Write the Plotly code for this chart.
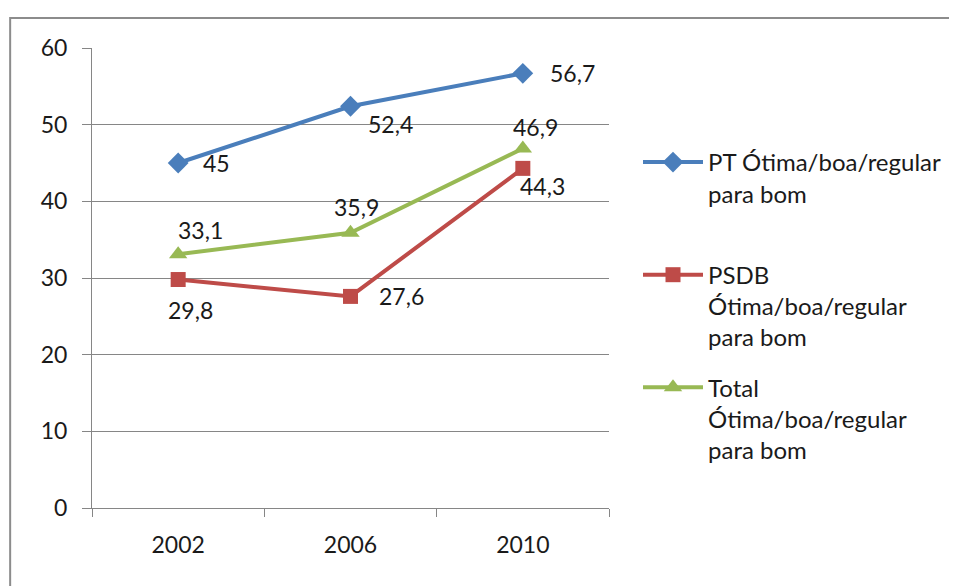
import plotly.graph_objects as go

years = ["2002", "2006", "2010"]
pt_values = [45, 52.4, 56.7]
psdb_values = [29.8, 27.6, 44.3]
total_values = [33.1, 35.9, 46.9]
series_names = [
    "PT Ótima/boa/regular<br>para bom<br> ",
    "PSDB<br>Ótima/boa/regular<br>para bom",
    "Total<br>Ótima/boa/regular<br>para bom",
]
y_ticks = [0, 10, 20, 30, 40, 50, 60]

# page body has an 8px margin; figure sits at (8,8)
OFF = 8
W, H = 957 - OFF, 586 - OFF
L, R, T, B = 92 - OFF, 957 - 610, 48 - OFF, 586 - 508
FONT = "Lato"
FS = 23
TXT = "#1a1a1a"

fig = go.Figure()
fig.add_trace(go.Scatter(x=years, y=pt_values, name=series_names[0], mode="lines+markers",
                         line=dict(color="#4A7EBB", width=4),
                         marker=dict(symbol="diamond", size=16, color="#4A7EBB"),
                         legendgroup="a"))
fig.add_trace(go.Scatter(x=years, y=psdb_values, name=series_names[1], mode="lines+markers",
                         line=dict(color="#BE4B48", width=4),
                         marker=dict(symbol="square", size=15, color="#BE4B48"),
                         legendgroup="b"))
fig.add_trace(go.Scatter(x=years, y=total_values, name=series_names[2], mode="lines+markers",
                         line=dict(color="#98B954", width=4),
                         marker=dict(symbol="triangle-up", size=16, color="#98B954"),
                         legendgroup="c"))

def fmt(v):
    return ("%g" % v).replace(".", ",")

# label offsets (pixels) per series/point
pt_off = [(38, 0), (40, -18), (50, 0)]
psdb_off = [(12, -30), (51, 0), (20, -18)]
total_off = [(22, 24), (6, 26), (13, 21)]
for vals, offs in ((pt_values, pt_off), (psdb_values, psdb_off), (total_values, total_off)):
    for i, (yv, (dx, dy)) in enumerate(zip(vals, offs)):
        fig.add_annotation(x=i, y=yv, xref="x", yref="y", text=fmt(yv), showarrow=False,
                           xshift=dx, yshift=dy,
                           font=dict(family=FONT, size=FS, color=TXT))

def px_to_paper_x(px):
    return (px - OFF - L) / (W - L - R)
def px_to_paper_y(py):
    return 1 - (py - OFF - T) / (H - T - B)

# chart border
fig.add_shape(type="rect", xref="paper", yref="paper",
              x0=px_to_paper_x(10), x1=px_to_paper_x(957 + 20),
              y0=px_to_paper_y(586 + 20), y1=px_to_paper_y(18),
              line=dict(color="#8c8c8c", width=2), fillcolor="rgba(0,0,0,0)", layer="below")

fig.update_layout(
    width=W, height=H,
    margin=dict(l=L, r=R, t=T, b=B),
    paper_bgcolor="white", plot_bgcolor="white",
    font=dict(family=FONT, size=FS, color=TXT),
    showlegend=True,
    legend=dict(x=px_to_paper_x(638), y=px_to_paper_y(140), xanchor="left", yanchor="top",
                font=dict(family=FONT, size=24, color=TXT),
                valign="top", tracegroupgap=16, itemwidth=60,
                bgcolor="rgba(0,0,0,0)"),
    xaxis=dict(type="category", range=[-0.5, 2.5], showgrid=False,
               showline=True, linecolor="#868686", linewidth=1,
               ticks="outside", tickson="boundaries", ticklen=8, tickcolor="#868686",
               tickfont=dict(family=FONT, size=FS, color=TXT), ticklabelstandoff=16),
    yaxis=dict(range=[0, 60], tickvals=y_ticks, showgrid=True, gridcolor="#868686", gridwidth=1,
               showline=True, linecolor="#868686", linewidth=1,
               ticks="outside", ticklen=9, tickcolor="#868686", zeroline=False,
               tickfont=dict(family=FONT, size=FS, color=TXT), ticklabelstandoff=10),
)

fig.write_html("out.html")
